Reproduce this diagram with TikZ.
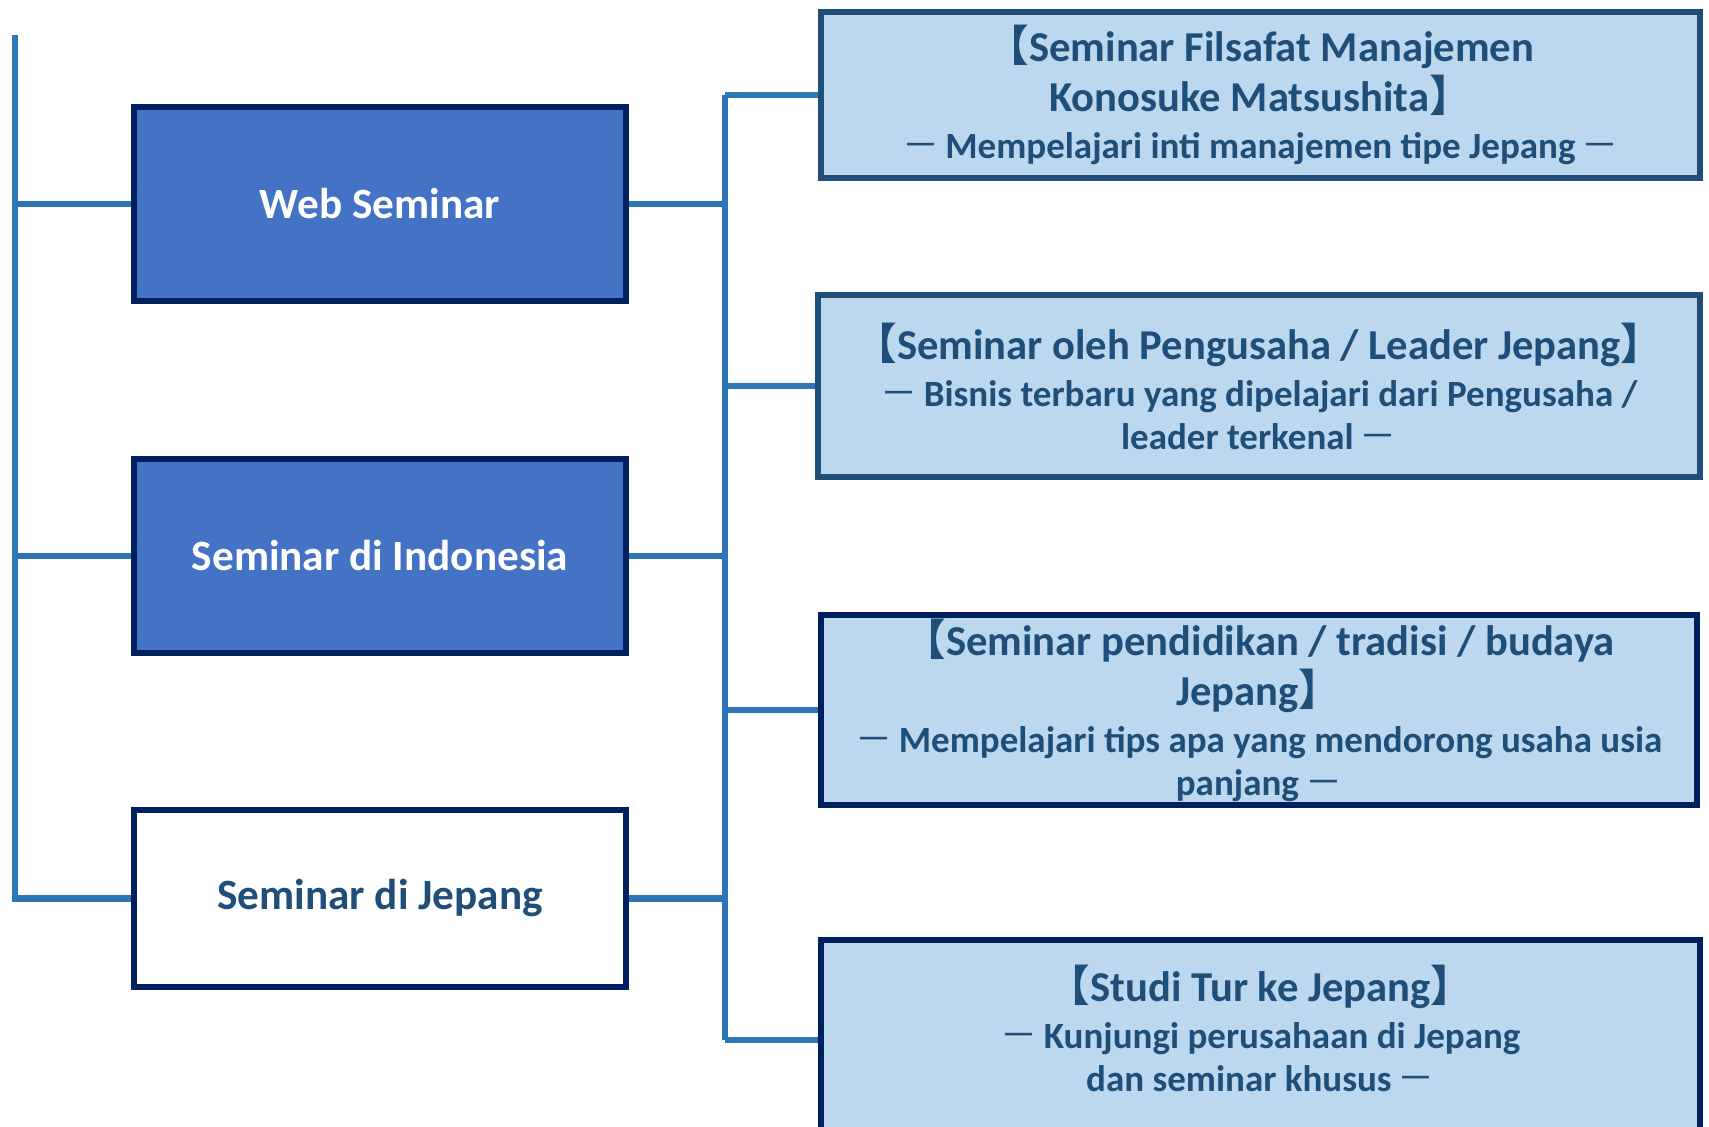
\documentclass[tikz,border=0pt]{standalone}
\usepackage{fontspec}
\setmainfont{Carlito}
\newfontfamily\jpfont{Noto Sans CJK JP}
\usetikzlibrary{positioning,calc}

\definecolor{linkblue}{HTML}{2E75B6}
\definecolor{navy}{HTML}{002060}
\definecolor{steel}{HTML}{1F4E79}
\definecolor{midblue}{HTML}{4472C4}
\definecolor{paleblue}{HTML}{BDD7EE}

\newcommand{\obr}{{\jpfont 【}}
\newcommand{\cbr}{{\jpfont 】}}
\newcommand{\jdash}{{\jpfont\mdseries －}}
\newcommand{\subtx}{\fontsize{18.5}{21}\selectfont}

\begin{document}
\begin{tikzpicture}[x=0.5pt, y=-0.5pt,
    link/.style={draw=linkblue, line width=3.2pt},
    mainbox/.style={draw=navy, line width=3pt, fill=midblue, text=white,
        inner sep=0pt, minimum width=246pt, minimum height=97pt,
        font=\bfseries\fontsize{21.6}{25}\selectfont},
    infobox/.style={draw=steel, line width=3pt, fill=paleblue, text=steel,
        inner sep=0pt, align=center, font=\bfseries\fontsize{21.3}{25}\selectfont}]
    \useasboundingbox (0,0) rectangle (1709,1127);

    % Left column: seminar types
    \node[mainbox] (web) at (380,204) {Web Seminar};
    \node[mainbox] (indo) at (380,556) {Seminar di Indonesia};
    \node[mainbox, fill=white, text=steel, minimum height=88.5pt] (jpg) at (380,898.5) {Seminar di Jepang};

    % Right column: programmes
    \node[infobox, minimum width=439.5pt, minimum height=83pt] (filsafat) at (1260.5,95)
        {\obr Seminar Filsafat Manajemen\\
         Konosuke Matsushita\cbr\\[-1.5pt]
         {\subtx\jdash\,Mempelajari inti manajemen tipe Jepang\,\jdash}};
    \node[infobox, minimum width=441pt, minimum height=91pt] (leader) at (1259,386)
        {\obr Seminar oleh Pengusaha / Leader Jepang\cbr\\[-1.5pt]
         {\subtx\jdash\,Bisnis terbaru yang dipelajari dari Pengusaha /}\\[-3.5pt]
         {\subtx leader terkenal\,\jdash}};
    \node[infobox, draw=navy, minimum width=438pt, minimum height=95pt] (budaya) at (1259,710)
        {\obr Seminar pendidikan / tradisi / budaya\\
         Jepang\cbr\\[-1.5pt]
         {\subtx\jdash\,Mempelajari tips apa yang mendorong usaha usia}\\[-3.5pt]
         {\subtx panjang\,\jdash}};
    \node[infobox, draw=navy, minimum width=439.5pt, minimum height=100pt, text depth=12pt] (tur) at (1260.5,1040)
        {\obr Studi Tur ke Jepang\cbr\\[-1.5pt]
         {\subtx\jdash\,Kunjungi perusahaan di Jepang}\\[-3.5pt]
         {\subtx dan seminar khusus\,\jdash}};

    % Left trunk
    \coordinate (trunk) at (15,35);
    \draw[link] (trunk) |- (jpg.west);
    \foreach \n in {web,indo}
        \draw[link] (trunk |- \n.west) -- (\n.west);

    % Middle hub
    \coordinate (hub) at (725,0);
    \draw[link] (hub |- filsafat.west) -- (hub |- tur.west);
    \foreach \n in {web,indo,jpg}
        \draw[link] (\n.east) -- (\n.east -| hub);
    \foreach \n in {filsafat,leader,budaya,tur}
        \draw[link] (hub |- \n.west) -- (\n.west);
\end{tikzpicture}
\end{document}
